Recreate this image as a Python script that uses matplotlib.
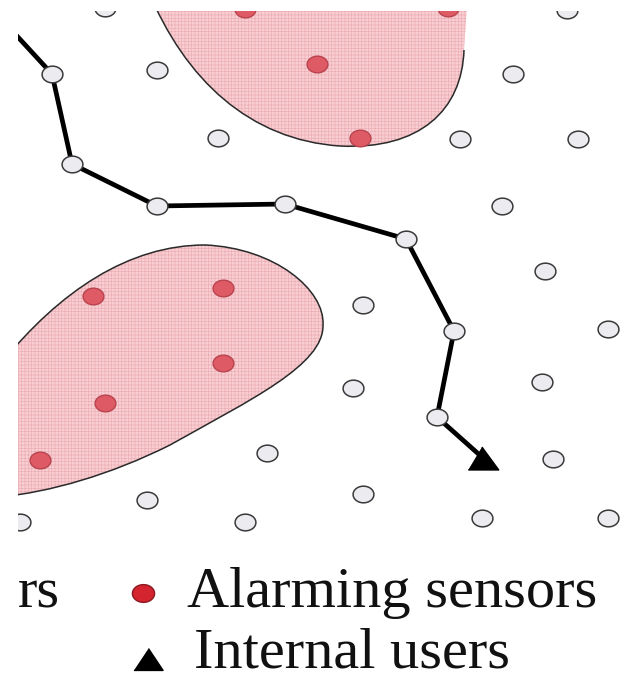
import numpy as np
import matplotlib
matplotlib.use("Agg")
import matplotlib.pyplot as plt
from matplotlib.path import Path
from matplotlib.patches import PathPatch

# --- data (pixel coordinates, y grows downward) ---
normal_x = [105, 157, 218, 567, 513, 460, 578, 502, 545, 363, 608, 353, 542,
            553, 363, 482, 608, 267, 147, 245, 20, 6]
normal_y = [8, 70, 138, 10, 74, 139, 139, 206, 271, 305, 329, 388, 382,
            459, 494, 518, 518, 453, 500, 522, 522, 255]

alarm_x = [245, 448, 317, 360, 93, 223, 223, 105, 40]
alarm_y = [9, 8, 64, 138, 296, 288, 363, 403, 460]

route_x = [5, 52, 72, 157, 285, 406, 454, 437, 483]
route_y = [23, 74, 164, 206, 204, 239, 331, 417, 458]

# outlines of the two alarm regions (cubic bezier control points)
top_region = [(148, -10), (185, 80), (250, 140), (340, 146),
              (420, 150), (462, 110), (464, 50), (468, -10), (148, -10)]
low_region = [(0, 365), (60, 290), (130, 245), (205, 245),
              (275, 248), (325, 290), (323, 325),
              (324, 365), (250, 400), (170, 445),
              (110, 475), (50, 492), (0, 497), (0, 365)]

legend_labels = ["Alarming sensors", "Internal users"]

W, H = 625, 679
plt.rcParams['font.family'] = ['Liberation Serif', 'DejaVu Serif']
plt.rcParams['hatch.linewidth'] = 0.45

fig = plt.figure(figsize=(W / 100, H / 100), dpi=100)

# diagram area is cropped at left and top
x0, x1, y0, y1 = 18, 625, 11, 545
ax = fig.add_axes([x0 / W, 1 - y1 / H, (x1 - x0) / W, (y1 - y0) / H])
ax.set_xlim(x0, x1)
ax.set_ylim(y1, y0)
ax.axis('off')

t = np.linspace(0, 2 * np.pi, 60)
oval = np.c_[np.cos(t), 0.8 * np.sin(t)]


def region(points, n_curves):
    codes = [Path.MOVETO] + [Path.CURVE4] * (3 * n_curves)
    codes += [Path.LINETO] * (len(points) - len(codes))
    return Path(points, codes)


for pts, n in [(top_region, 2), (low_region, 4)]:
    ax.add_patch(PathPatch(region(pts, n), facecolor='#f8ced2', edgecolor='#eaaeb4',
                           hatch='+++++', lw=0, zorder=1))
    outline = region(pts[:3 * n + 1], n)
    ax.add_patch(PathPatch(outline, facecolor='none', edgecolor='#2a2a2a',
                           lw=1.1, zorder=2))

ax.plot(normal_x, normal_y, ls='none', marker=oval, ms=15, mfc='#ececf0',
        mec='#3a3a3a', mew=1.1, zorder=3)
ax.plot(alarm_x, alarm_y, ls='none', marker=oval, ms=15, mfc='#de5a64',
        mec='#b9434e', mew=1.0, zorder=3)

tri = [(-1, -0.75), (1, -0.75), (-0.1, 0.75)]
ax.plot(route_x, route_y, color='black', lw=3.4, zorder=4, solid_capstyle='butt')
ax.plot(route_x[1:-1], route_y[1:-1], ls='none', marker=oval, ms=15,
        mfc='#ececf0', mec='#3a3a3a', mew=1.1, zorder=5)
ax.plot(route_x[-1:], route_y[-1:], ls='none', marker=tri, ms=22,
        color='black', zorder=5)

# legend (bottom, cropped at left)
lg = fig.add_axes([0, 0, 1, 1])
lg.set_xlim(0, W)
lg.set_ylim(H, 0)
lg.axis('off')
lg.patch.set_alpha(0)
lg.text(18, 607, "rs", fontsize=42, va='baseline', ha='left', color='#111111')
lg.plot([143], [593], ls='none', marker=oval, ms=16, mfc='#d42430',
        mec='#8a1a22', mew=1.0)
lg.text(187, 607, legend_labels[0], fontsize=42, va='baseline', ha='left',
        color='#111111')
lg.plot([148], [659], ls='none', marker=[(-1, -0.75), (1, -0.75), (0, 0.75)],
        ms=21, color='black')
lg.text(194, 667, legend_labels[1], fontsize=42, va='baseline', ha='left',
        color='#111111')

fig.savefig("out.png", dpi=100, facecolor='white')
